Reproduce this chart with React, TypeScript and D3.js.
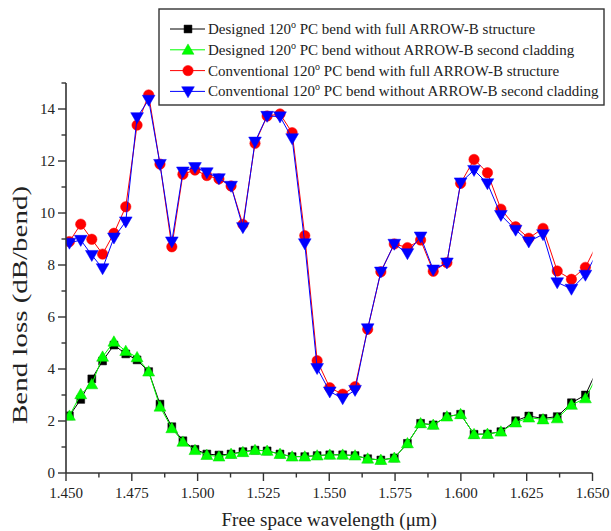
import React from 'react';
import * as d3 from 'd3';

const wavelengths = [
  1.4513, 1.4556, 1.4598, 1.4639, 1.4682, 1.4727, 1.4770, 1.4814, 1.4857, 1.4902,
  1.4944, 1.4990, 1.5035, 1.5081, 1.5127, 1.5172, 1.5218, 1.5264, 1.5313, 1.5359,
  1.5407, 1.5454, 1.5502, 1.5551, 1.5598, 1.5646, 1.5696, 1.5747, 1.5797, 1.5847,
  1.5895, 1.5947, 1.5999, 1.6050, 1.6101, 1.6152, 1.6208, 1.6258, 1.6312, 1.6366,
  1.6420, 1.6473, 1.6527,
];

const designedFull = [
  2.2, 2.83, 3.62, 4.31, 4.92, 4.58, 4.35, 3.9, 2.65, 1.78,
  1.24, 0.91, 0.73, 0.69, 0.73, 0.82, 0.88, 0.85, 0.73, 0.63,
  0.63, 0.67, 0.7, 0.7, 0.67, 0.55, 0.5, 0.58, 1.14, 1.91,
  1.85, 2.17, 2.26, 1.49, 1.5, 1.59, 2.01, 2.19, 2.1, 2.17,
  2.7, 3.0, 4.18,
];

const designedNoCladding = [
  2.2, 3.03, 3.41, 4.47, 5.05, 4.69, 4.45, 3.9, 2.55, 1.72,
  1.2, 0.88, 0.69, 0.63, 0.73, 0.8, 0.88, 0.85, 0.73, 0.63,
  0.63, 0.67, 0.7, 0.7, 0.67, 0.55, 0.5, 0.58, 1.14, 1.91,
  1.85, 2.17, 2.26, 1.49, 1.5, 1.59, 1.94, 2.13, 2.06, 2.1,
  2.62, 2.87, 3.91,
];

const conventionalFull = [
  8.9, 9.57, 8.99, 8.42, 9.22, 10.24, 13.38, 14.54, 11.88, 8.7,
  11.49, 11.65, 11.44, 11.31, 11.04, 9.56, 12.68, 13.73, 13.81, 13.09,
  9.13, 4.32, 3.28, 3.03, 3.32, 5.53, 7.74, 8.81, 8.67, 8.96,
  7.76, 8.09, 11.14, 12.06, 11.55, 10.15, 9.47, 9.03, 9.41, 7.77,
  7.45, 7.91, 9.0,
];

const conventionalNoCladding = [
  8.85, 8.96, 8.38, 7.87, 9.05, 9.67, 13.68, 14.35, 11.88, 8.9,
  11.59, 11.76, 11.56, 11.33, 11.04, 9.45, 12.74, 13.73, 13.71, 12.87,
  8.83, 4.03, 3.13, 2.87, 3.19, 5.56, 7.74, 8.81, 8.45, 9.09,
  7.82, 8.09, 11.17, 11.65, 11.14, 9.92, 9.35, 8.9, 9.18, 7.33,
  7.08, 7.62, 8.66,
];

const xMajorTicks = [1.45, 1.475, 1.5, 1.525, 1.55, 1.575, 1.6, 1.625, 1.65];
const yMajorTicks = [0, 2, 4, 6, 8, 10, 12, 14];

const legendLabels = [
  ['Designed 120', ' PC bend with full ARROW-B structure'],
  ['Designed 120', ' PC bend without ARROW-B second cladding'],
  ['Conventional 120', ' PC bend with full ARROW-B structure'],
  ['Conventional 120', ' PC bend without ARROW-B second cladding'],
];

const xTitle = 'Free space wavelength (μm)';
const yTitle = 'Bend loss (dB/bend)';

const FONT = '"Liberation Serif", "Times New Roman", Times, serif';

type SeriesDef = {
  values: number[];
  color: string;
  symbol: d3.SymbolType;
  size: number;
  rotate: number;
  stroke: string;
};

export default function App() {
  const W = 611;
  const H = 531;
  const x = d3.scaleLinear().domain([1.45, 1.65]).range([66, 592.5]);
  const y = d3.scaleLinear().domain([0, 15]).range([473, 83]);

  const series: SeriesDef[] = [
    { values: designedFull, color: '#000000', symbol: d3.symbolSquare, size: 62, rotate: 0, stroke: '#000000' },
    { values: designedNoCladding, color: '#00ff00', symbol: d3.symbolTriangle, size: 62, rotate: 0, stroke: '#00dd00' },
    { values: conventionalFull, color: '#ff0000', symbol: d3.symbolCircle, size: 85, rotate: 0, stroke: '#ff0000' },
    { values: conventionalNoCladding, color: '#0000ff', symbol: d3.symbolTriangle, size: 70, rotate: 180, stroke: '#0000ff' },
  ];

  const line = d3
    .line<number>()
    .x((_, i) => x(wavelengths[i]))
    .y((d) => y(d));

  const xMinor = d3.range(0, 8).map((i) => 1.4625 + i * 0.025);
  const yMinor = d3.range(1, 16, 2);

  const axisColor = '#333';
  const x0 = x(1.45);
  const x1 = x(1.65);
  const y0 = y(0);
  const yTop = y(15);

  const legendX = 159;
  const legendY = 9;
  const legendW = 445;
  const legendH = 96;
  const rowY = (i: number) => 29 + i * 20.8;

  return (
    <svg
      width={W}
      height={H}
      viewBox={`0 0 ${W} ${H}`}
      style={{ position: 'absolute', left: 0, top: 0, background: '#fff' }}
      fontFamily={FONT}
    >
      <rect x={0} y={0} width={W} height={H} fill="#fff" />
      <defs>
        <clipPath id="plotClip">
          <rect x={x0} y={0} width={x1 - x0} height={H} />
        </clipPath>
      </defs>

      {/* series */}
      <g clipPath="url(#plotClip)">
        {series.map((s, si) => (
          <g key={si}>
            <path d={line(s.values) || ''} fill="none" stroke={s.color} strokeWidth={1} />
            {s.values.map((v, i) => (
              <path
                key={i}
                d={d3.symbol().type(s.symbol).size(s.size)() || ''}
                transform={`translate(${x(wavelengths[i])},${y(v) + (s.rotate ? -1 : s.symbol === d3.symbolTriangle ? 1 : 0)}) rotate(${s.rotate})`}
                fill={s.color}
                stroke={s.stroke}
                strokeWidth={0.5}
              />
            ))}
          </g>
        ))}
      </g>

      {/* axes */}
      <line x1={x0} x2={x0} y1={yTop} y2={y0} stroke={axisColor} strokeWidth={1.6} />
      <line x1={x0} x2={x1} y1={y0} y2={y0} stroke={axisColor} strokeWidth={1.6} />
      {yMajorTicks.map((t) => (
        <g key={'ym' + t}>
          <line x1={x0 - 8} x2={x0} y1={y(t)} y2={y(t)} stroke={axisColor} strokeWidth={1.4} />
          <text x={x0 - 11} y={y(t) + 5} textAnchor="end" fontSize={15} fill="#222">
            {t}
          </text>
        </g>
      ))}
      {yMinor.map((t) => (
        <line key={'yn' + t} x1={x0 - 4.5} x2={x0} y1={y(t)} y2={y(t)} stroke={axisColor} strokeWidth={1.4} />
      ))}
      {xMajorTicks.map((t) => (
        <g key={'xm' + t}>
          <line x1={x(t)} x2={x(t)} y1={y0} y2={y0 + 8} stroke={axisColor} strokeWidth={1.4} />
          <text x={x(t)} y={y0 + 25} textAnchor="middle" fontSize={15} fill="#222">
            {d3.format('.3f')(t)}
          </text>
        </g>
      ))}
      {xMinor.map((t) => (
        <line key={'xn' + t} x1={x(t)} x2={x(t)} y1={y0} y2={y0 + 4.5} stroke={axisColor} strokeWidth={1.4} />
      ))}

      <text x={(x0 + x1) / 2} y={526} textAnchor="middle" fontSize={19} fill="#222">
        {xTitle}
      </text>
      <text
        transform={`translate(27,305) rotate(-90)`}
        textAnchor="middle"
        fontSize={20}
        fill="#222"
        textLength={238}
        lengthAdjust="spacingAndGlyphs"
      >
        {yTitle}
      </text>

      {/* legend */}
      <rect x={legendX} y={legendY} width={legendW} height={legendH} fill="#fff" stroke="#333" strokeWidth={1.4} />
      {series.map((s, i) => (
        <g key={'lg' + i}>
          <line x1={170} x2={205} y1={rowY(i)} y2={rowY(i)} stroke={s.color} strokeWidth={1} />
          <path
            d={d3.symbol().type(s.symbol).size(s.size)() || ''}
            transform={`translate(188,${rowY(i) + (s.rotate ? -1 : s.symbol === d3.symbolTriangle ? 1 : 0)}) rotate(${s.rotate})`}
            fill={s.color}
            stroke={s.stroke}
            strokeWidth={0.5}
          />
          <text x={208} y={rowY(i) + 5} fontSize={15} fill="#222">
            {legendLabels[i][0]}
            <tspan fontSize={10} dy={-6}>o</tspan>
            <tspan dy={6}>{legendLabels[i][1]}</tspan>
          </text>
        </g>
      ))}
    </svg>
  );
}
